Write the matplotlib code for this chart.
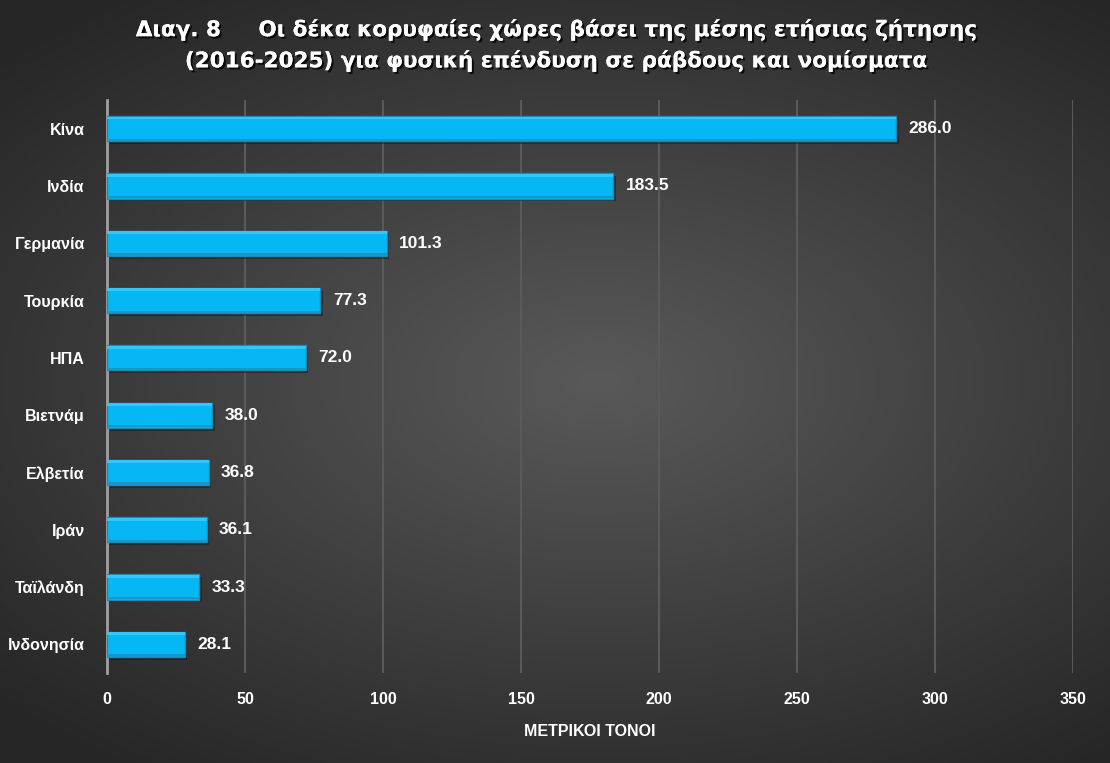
import numpy as np
import matplotlib.pyplot as plt
import matplotlib.patheffects as pe

countries = ['Κίνα', 'Ινδία', 'Γερμανία', 'Τουρκία', 'ΗΠΑ', 'Βιετνάμ',
             'Ελβετία', 'Ιράν', 'Ταϊλάνδη', 'Ινδονησία']
demand = [286.0, 183.5, 101.3, 77.3, 72.0, 38.0, 36.8, 36.1, 33.3, 28.1]
xticks = [0, 50, 100, 150, 200, 250, 300, 350]

title = ('Διαγ. 8     Οι δέκα κορυφαίες χώρες βάσει της μέσης ετήσιας ζήτησης\n'
         '(2016-2025) για φυσική επένδυση σε ράβδους και νομίσματα')

fig = plt.figure(figsize=(11.1, 7.63), dpi=100)

# radial gradient background
bg = fig.add_axes([0, 0, 1, 1], zorder=0)
yy, xx = np.mgrid[-1:1:400j, -1:1:600j]
r = np.sqrt(((xx - 0.08) * 0.85) ** 2 + (yy * 1.0) ** 2)
shade = np.clip(0.35 - 0.16 * r, 0.15, 0.36)
bg.imshow(np.dstack([shade, shade, shade]), aspect='auto', extent=[0, 1, 0, 1])
bg.axis('off')

ax = fig.add_axes([0.0964, 0.118, 0.8703, 0.751], zorder=1)
ax.patch.set_alpha(0)
y = np.arange(len(countries))

# shadow, main bar, subtle bevel
ax.barh(y + 0.05, demand, height=0.44, left=1.0, color='#151515', alpha=0.45, zorder=2)
ax.barh(y, demand, height=0.44, color='#05b7f2', edgecolor='#1b8ab5', linewidth=1.0, zorder=3)
ax.barh(y - 0.185, demand, height=0.05, color='#30c8fb', linewidth=0, zorder=4)
ax.barh(y + 0.195, demand, height=0.04, color='#1a95c4', linewidth=0, zorder=4)

for yi, v in zip(y, demand):
    ax.text(v + 4.5, yi, f'{v:.1f}', va='center', ha='left', color='white',
            fontsize=12.5, fontweight='bold', family='Liberation Sans', zorder=5)

ax.set_ylim(9.5, -0.5)
ax.set_xlim(0, 350)
ax.set_xticks(xticks)
ax.set_yticks(y)
ax.set_yticklabels(countries)
ax.grid(axis='x', color='#5a5a5a', linewidth=1.5)
ax.set_axisbelow(True)
for s in ['top', 'right', 'bottom']:
    ax.spines[s].set_visible(False)
ax.spines['left'].set_color('#a0a0a0')
ax.spines['left'].set_linewidth(2)
ax.tick_params(length=0, colors='white')
ax.tick_params(axis='y', pad=16)
ax.tick_params(axis='x', pad=14)
for lab in ax.get_xticklabels() + ax.get_yticklabels():
    lab.set_fontproperties({'family': 'Liberation Sans', 'weight': 'bold', 'size': 11.5})
ax.set_xlabel('ΜΕΤΡΙΚΟΙ ΤΟΝΟΙ', color='white', fontsize=11.5, fontweight='bold',
              family='Liberation Sans', labelpad=12)

fig.text(0.5, 0.941, title, ha='center', va='center', color='white', fontsize=15.5,
         fontweight='bold', family='DejaVu Sans Condensed', linespacing=1.55,
         path_effects=[pe.withSimplePatchShadow(offset=(1.5, -1.5), shadow_rgbFace='black', alpha=0.8),
                       pe.Normal()])

fig.savefig('out.png', dpi=100)
